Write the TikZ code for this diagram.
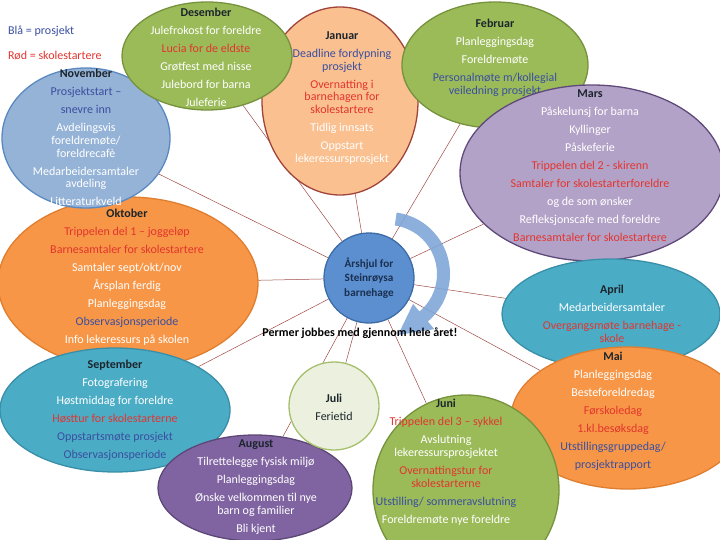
\documentclass[tikz,border=0pt]{standalone}
\usepackage{fontspec}
\setmainfont{Carlito}
\usetikzlibrary{shapes.geometric,calc,backgrounds}
\definecolor{grnfill}{HTML}{9BBB59}
\definecolor{grnline}{HTML}{76923C}
\definecolor{peach}{HTML}{FAC090}
\definecolor{peachline}{HTML}{A0443A}
\definecolor{lilac}{HTML}{B3A2C7}
\definecolor{lilacline}{HTML}{5F497A}
\definecolor{skyfill}{HTML}{95B3D7}
\definecolor{skyline}{HTML}{5A88C0}
\definecolor{orngfill}{HTML}{F79646}
\definecolor{orngline}{HTML}{E07E30}
\definecolor{tealfill}{HTML}{4BACC6}
\definecolor{tealline}{HTML}{3A8FA8}
\definecolor{plumfill}{HTML}{8064A2}
\definecolor{plumline}{HTML}{5C4776}
\definecolor{palegrn}{HTML}{EBF1DE}
\definecolor{palegrnline}{HTML}{A6BF6C}
\definecolor{hubfill}{HTML}{5B8FD0}
\definecolor{hubline}{HTML}{3D6CA6}
\definecolor{hubtext}{HTML}{1B2F4F}
\definecolor{arrowblue}{HTML}{7FA6D8}
\definecolor{linkred}{HTML}{9E4A47}
\definecolor{txtred}{HTML}{E2352F}
\definecolor{txtblue}{HTML}{3A4FA0}
\definecolor{txttitle}{HTML}{1C252C}
\newcommand{\mt}[1]{\textbf{\textcolor{txttitle}{#1}}}
\newcommand{\rt}[1]{\textcolor{txtred}{#1}}
\newcommand{\bt}[1]{\textcolor{txtblue}{#1}}
\newcommand{\nxt}{\\[5.2pt]}

\begin{document}
\begin{tikzpicture}[x=1pt, y=-1pt,
    month/.style={ellipse, draw, line width=1.3pt, inner sep=0pt},
    txt/.style={align=center, inner sep=0pt, text=white, font=\fontsize{12}{12.8}\selectfont},
    link/.style={draw=linkred, line width=0.5pt},
    legend/.style={anchor=west, inner sep=0pt, font=\fontsize{12}{12.8}\selectfont}
]
\useasboundingbox (0,0) rectangle (720,540);
\clip (0,0) rectangle (720,540);

\node[legend, text=txtblue] (legblue) at (8,31) {Blå = prosjekt};
\node[legend, text=txtred] (legred) at (8,56) {Rød = skolestartere};

\node[month, fill=orngfill, draw=orngline, minimum width=260pt, minimum height=172pt] (okt) at (128,283) {};
\node[txt] (okttx) at (127,277) {\mt{Oktober}\nxt \rt{Trippelen del 1 – joggeløp}\nxt \rt{Barnesamtaler for skolestartere}\nxt Samtaler sept/okt/nov\nxt Årsplan ferdig\nxt Planleggingsdag\nxt \bt{Observasjonsperiode}\nxt Info lekeressurs på skolen};

\node[month, fill=peach, draw=peachline, minimum width=156pt, minimum height=188pt] (jan) at (340,101) {};
\node[txt] (jantx) at (342,98) {\mt{Januar}\nxt \bt{Deadline fordypning}\\\bt{prosjekt}\nxt \rt{Overnatting i}\\\rt{barnehagen for}\\\rt{skolestartere}\nxt Tidlig innsats\nxt Oppstart\\lekeressursprosjekt};

\node[month, fill=skyfill, draw=skyline, minimum width=168pt, minimum height=140pt] (nov) at (86,138) {};
\node[txt] (novtx) at (86,137.5) {\mt{November}\nxt \bt{Prosjektstart –}\nxt \bt{snevre inn}\nxt Avdelingsvis\\foreldremøte/\\foreldrecafè\nxt Medarbeidersamtaler\\avdeling\nxt Litteraturkveld};

\node[month, fill=grnfill, draw=grnline, minimum width=170pt, minimum height=108pt] (des) at (207,56) {};
\node[txt] (destx) at (206,57.5) {\mt{Desember}\nxt Julefrokost for foreldre\nxt \rt{Lucia for de eldste}\nxt Grøtfest med nisse\nxt Julebord for barna\nxt Juleferie};

\node[month, fill=grnfill, draw=grnline, minimum width=186pt, minimum height=126pt] (feb) at (495,65) {};
\node[txt] (febtx) at (495,58) {\mt{Februar}\nxt Planleggingsdag\nxt Foreldremøte\nxt \bt{Personalmøte m/kollegial}\\\bt{veiledning prosjekt}};

\node[month, fill=lilac, draw=lilacline, minimum width=264pt, minimum height=176pt] (mar) at (592,173) {};
\node[txt] (martx) at (590,166) {\mt{Mars}\nxt Påskelunsj for barna\nxt Kyllinger\nxt Påskeferie\nxt \rt{Trippelen del 2 - skirenn}\nxt \rt{Samtaler for skolestarterforeldre}\nxt og de som ønsker\nxt Refleksjonscafe med foreldre\nxt \rt{Barnesamtaler for skolestartere}};

\node[month, fill=tealfill, draw=tealline, minimum width=218pt, minimum height=110pt] (apr) at (611,314) {};
\node[txt] (aprtx) at (612,314) {\mt{April}\nxt Medarbeidersamtaler\nxt \rt{Overgangsmøte barnehage -}\\\rt{skole}};

\node[month, fill=orngfill, draw=orngline, minimum width=234pt, minimum height=142pt] (mai) at (628,418) {};
\node[txt] (maitx) at (613,411.5) {\mt{Mai}\nxt Planleggingsdag\nxt Besteforeldredag\nxt \rt{Førskoledag}\nxt \rt{1.kl.besøksdag}\nxt \bt{Utstillingsgruppedag/}\nxt \bt{prosjektrapport}};

\node[month, fill=grnfill, draw=grnline, minimum width=186pt, minimum height=190pt] (jun) at (466,490) {};
\node[txt] (juntx) at (446,462.5) {\mt{Juni}\nxt \rt{Trippelen del 3 – sykkel}\nxt Avslutning\\lekeressursprosjektet\nxt \rt{Overnattingstur for}\\\rt{skolestarterne}\nxt \bt{Utstilling/ sommeravslutning}\nxt Foreldremøte nye foreldre};

\node[month, fill=tealfill, draw=tealline, minimum width=230pt, minimum height=124pt] (sep) at (115,410) {};
\node[txt] (septx) at (115,410) {\mt{September}\nxt Fotografering\nxt Høstmiddag for foreldre\nxt \rt{Høsttur for skolestarterne}\nxt \bt{Oppstartsmøte prosjekt}\nxt \bt{Observasjonsperiode}};

\node[month, fill=plumfill, draw=plumline, minimum width=194pt, minimum height=106pt] (aug) at (255,488) {};
\node[txt] (augtx) at (256,487) {\mt{August}\nxt Tilrettelegge fysisk miljø\nxt Planleggingsdag\nxt Ønske velkommen til nye\\barn og familier\nxt Bli kjent};

\node[month, fill=palegrn, draw=palegrnline, minimum width=90pt, minimum height=88pt] (jul) at (334,406) {};
\node[txt, text=txttitle] (jultx) at (334,407) {\textbf{Juli}\nxt Ferietid};

\node[circle, fill=hubfill, draw=hubline, line width=1.3pt, minimum size=90pt, inner sep=0pt, align=center, text=hubtext, font=\bfseries\fontsize{11.2}{14.5}\selectfont] (hub) at (369,278) {Årshjul for\\Steinrøysa\\barnehage};

\begin{scope}[on background layer]
\foreach \m in {okt,nov,des,jan,feb,mar,apr,mai,jun,jul,aug,sep}
    \draw[link] (hub) -- (\m);
\end{scope}

\coordinate (arc0) at (388,274);
\coordinate (atip) at (398,335);
\fill[arrowblue, opacity=0.9] ($(arc0)+(-82:62)$) arc[start angle=-82, end angle=50, radius=62] -- ($(arc0)+(50:72)$) -- (atip) -- ($(arc0)+(50:39)$) -- ($(arc0)+(50:49)$) arc[start angle=50, end angle=-82, radius=49] -- cycle;

\node[inner sep=0pt, font=\bfseries\fontsize{12}{12.8}\selectfont] (permer) at (360,333) {Permer jobbes med gjennom hele året!};
\end{tikzpicture}
\end{document}
